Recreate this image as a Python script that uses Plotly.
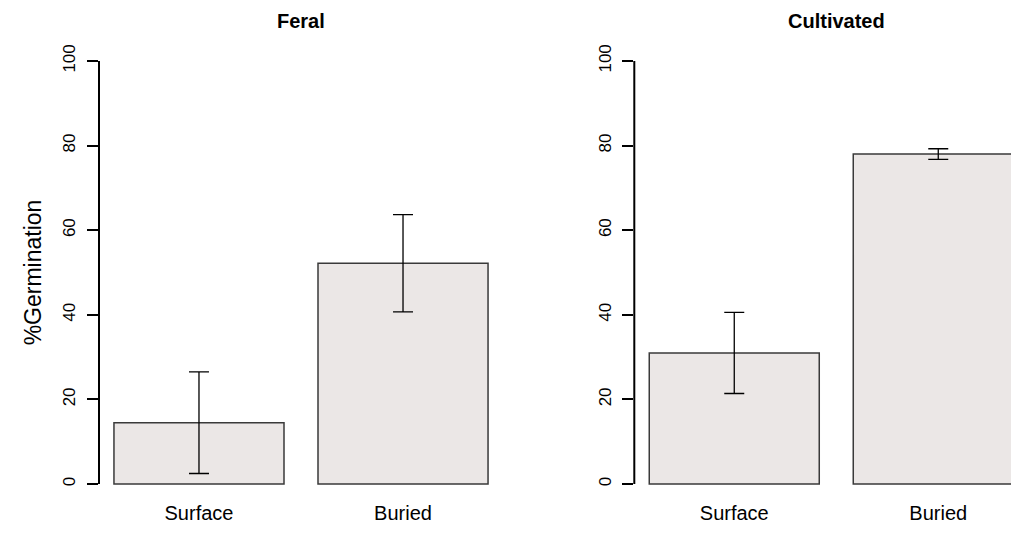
import plotly.graph_objects as go

categories = ["Surface", "Buried"]
panels = ["Feral", "Cultivated"]
feral_values = [14.5, 52.2]
feral_errors = [12.0, 11.5]
cultivated_values = [31.0, 78.0]
cultivated_errors = [9.6, 1.25]
bar_positions = [0.7, 1.9]
y_ticks = [0, 20, 40, 60, 80, 100]

W, H = 1011, 550
FONT = "Liberation Sans, Arial, Helvetica, sans-serif"
fill = "#ebe7e6"
edge = "#3a3a3a"

fig = go.Figure()
for i, (vals, errs) in enumerate([(feral_values, feral_errors), (cultivated_values, cultivated_errors)]):
    ax = "" if i == 0 else str(i + 1)
    fig.add_trace(go.Bar(
        x=bar_positions, y=vals, width=1.0,
        marker=dict(color=fill, line=dict(color=edge, width=1.5)),
        error_y=dict(type="data", array=errs, visible=True, color="black",
                     thickness=1.3, width=10),
        xaxis="x" + ax, yaxis="y" + ax, showlegend=False, hoverinfo="skip",
    ))

ydom = [(550 - 501) / H, (550 - 44) / H]
common_y = dict(range=[-4, 104], domain=ydom, tickvals=y_ticks, ticktext=[str(v) for v in y_ticks],
                ticks="outside", ticklen=11, tickwidth=2, tickcolor="black",
                tickangle=-90, tickfont=dict(family=FONT, size=17, color="black"),
                showgrid=False, zeroline=False, showline=False, ticklabelstandoff=5,
                automargin=False)
common_x = dict(tickvals=bar_positions, ticktext=categories, ticks="",
                tickfont=dict(family=FONT, size=20, color="black"),
                showgrid=False, zeroline=False, showline=False, automargin=False,
                ticklabelstandoff=-2)

fig.update_layout(
    width=W, height=H, margin=dict(l=0, r=0, t=0, b=0, autoexpand=False),
    paper_bgcolor="white", plot_bgcolor="white",
    xaxis=dict(range=[0.112, 2.488], domain=[99 / W, 503 / W], anchor="y", **common_x),
    xaxis2=dict(range=[0.112, 0.112 + (1011 - 634.3) / 170.0], domain=[634.3 / W, 1.0], anchor="y2", **common_x),
    yaxis=dict(anchor="x",
               title=dict(text="%Germination", font=dict(family=FONT, size=23, color="black"), standoff=12),
               **common_y),
    yaxis2=dict(anchor="x2", **common_y),
)

# y axis lines from 0 to 100 (R-style axis)
for ax in ["", "2"]:
    fig.add_shape(type="line", xref=f"x{ax} domain", yref=f"y{ax}", x0=0, x1=0,
                  y0=y_ticks[0], y1=y_ticks[-1], line=dict(color="black", width=2))

# panel titles, centred over full plot region
for i, name in enumerate(panels):
    ax = "" if i == 0 else str(i + 1)
    fig.add_annotation(text=f"<b>{name}</b>", xref=f"x{ax}", yref="paper",
                       x=1.3, y=(550 - 21) / H, yanchor="middle", showarrow=False,
                       font=dict(family=FONT, size=20, color="black"))

fig.write_html("out.html", config={"displayModeBar": False},
               post_script="document.body.style.margin='0';document.body.style.overflow='hidden';")
